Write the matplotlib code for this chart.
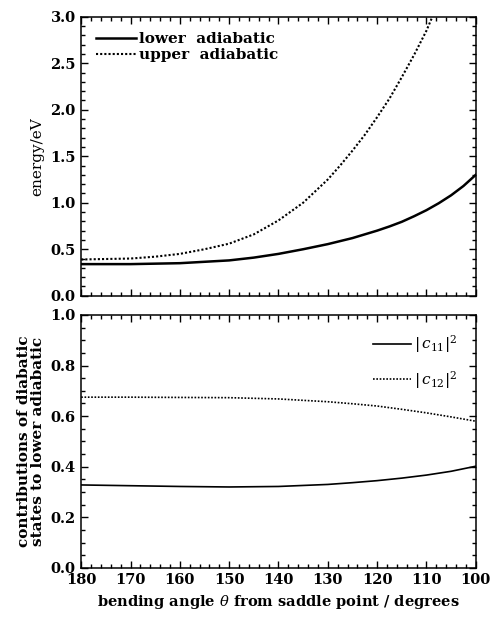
import matplotlib
matplotlib.use("Agg")
import matplotlib.pyplot as plt
from matplotlib.ticker import MultipleLocator, FormatStrFormatter

# ---- data ----
angle_lower = [180, 170, 160, 150, 145, 140, 135, 130, 125, 120, 117.5, 115, 112.5, 110,
               107.5, 105, 102.5, 100]
energy_lower = [0.34, 0.34, 0.35, 0.38, 0.41, 0.45, 0.50, 0.555, 0.62, 0.70, 0.745, 0.795,
                0.855, 0.92, 0.995, 1.08, 1.18, 1.30]

angle_upper = [180, 170, 165, 160, 155, 150, 145, 140, 135, 130, 127.5, 125, 122.5, 120,
               117.5, 115, 112.5, 110, 108.8]
energy_upper = [0.39, 0.40, 0.42, 0.45, 0.50, 0.56, 0.66, 0.81, 1.00, 1.25, 1.40, 1.56,
                1.73, 1.92, 2.12, 2.35, 2.59, 2.85, 3.0]

angle_c = [180, 170, 160, 150, 140, 130, 125, 120, 115, 110, 105, 100]
c11_sq = [0.328, 0.325, 0.322, 0.320, 0.322, 0.330, 0.337, 0.345, 0.355, 0.367, 0.382, 0.402]
c12_sq = [0.675, 0.675, 0.674, 0.673, 0.668, 0.657, 0.649, 0.640, 0.627, 0.613, 0.597, 0.580]

labels_top = ["lower  adiabatic", "upper  adiabatic"]
labels_bot = [r"$|\,c_{11}|^2$", r"$|\,c_{12}|^2$"]
xticks = [180, 170, 160, 150, 140, 130, 120, 110, 100]

plt.rcParams['font.family'] = ['DejaVu Serif']
plt.rcParams['mathtext.fontset'] = 'dejavuserif'

fig = plt.figure(figsize=(4.92, 6.2), dpi=100)
L, R = 0.165, 0.967
ax1 = fig.add_axes([L, 0.523, R - L, 0.973 - 0.523])
ax2 = fig.add_axes([L, 0.084, R - L, 0.492 - 0.084])

dotted = (0, (1, 1))
ax1.plot(angle_lower, energy_lower, color='black', lw=1.8, label=labels_top[0])
ax1.plot(angle_upper, energy_upper, color='black', lw=1.5, ls=dotted, label=labels_top[1])
ax2.plot(angle_c, c11_sq, color='black', lw=1.2, label=labels_bot[0])
ax2.plot(angle_c, c12_sq, color='black', lw=1.2, ls=dotted, label=labels_bot[1])

for ax in (ax1, ax2):
    ax.set_xlim(180, 100)
    ax.set_xticks(xticks)
    ax.xaxis.set_minor_locator(MultipleLocator(2))
    ax.tick_params(which='both', direction='in', top=True, right=True, width=1)
    ax.tick_params(which='major', length=5, labelsize=10.5, pad=4)
    ax.tick_params(which='minor', length=3)
    for s in ax.spines.values():
        s.set_linewidth(1.1)

ax1.set_ylim(0, 3.0)
ax1.yaxis.set_major_locator(MultipleLocator(0.5))
ax1.yaxis.set_minor_locator(MultipleLocator(0.1))
ax1.yaxis.set_major_formatter(FormatStrFormatter('%.1f'))
ax1.tick_params(labelbottom=False)
ax1.set_ylabel("energy/eV", fontsize=11)

ax2.set_ylim(0, 1.0)
ax2.yaxis.set_major_locator(MultipleLocator(0.2))
ax2.yaxis.set_minor_locator(MultipleLocator(0.05))
ax2.yaxis.set_major_formatter(FormatStrFormatter('%.1f'))
ax2.set_ylabel("contributions of diabatic\nstates to lower adiabatic", fontsize=11,
               fontweight='bold', linespacing=1.0)
ax2.set_xlabel(r"bending angle $\theta$ from saddle point / degrees", fontsize=10.5,
               fontweight='bold')
for lab in ax2.get_xticklabels() + ax2.get_yticklabels() + ax1.get_yticklabels():
    lab.set_fontweight('bold')

ax1.legend(loc='upper left', frameon=False, handlelength=2.6, handletextpad=0.2,
           labelspacing=0.15, borderaxespad=0.6, prop={'size': 11, 'weight': 'bold'})
ax2.legend(loc='upper right', frameon=False, handlelength=2.5, handletextpad=0.2,
           labelspacing=0.9, borderaxespad=0.8, prop={'size': 11})

fig.savefig("out.png", dpi=100)
